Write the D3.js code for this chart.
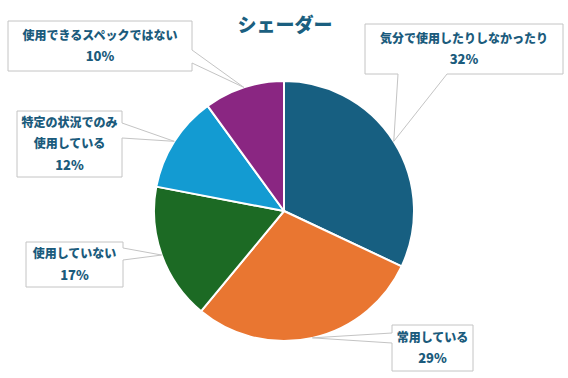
<!DOCTYPE html>
<html><head><meta charset="utf-8">
<script src="https://cdn.jsdelivr.net/npm/d3@7"></script>
<style>html,body{margin:0;padding:0;background:#fff;}svg{display:block;}</style>
</head><body>
<svg id="c" width="568" height="378"></svg>
<script>
const categories = ["気分で使用したりしなかったり", "常用している", "使用していない", "特定の状況でのみ使用している", "使用できるスペックではない"];
const labelLines = [["気分で使用したりしなかったり"], ["常用している"], ["使用していない"], ["特定の状況でのみ", "使用している"], ["使用できるスペックではない"]];
const values = [32, 29, 17, 12, 10];
const colors = ["#175f81", "#e97631", "#1c6a24", "#139bd2", "#8a2682"];
const title = "シェーダー";

// callout box layout (positions only)
const boxes = [
  {x: 365, y: 24, w: 198, h: 50, side: "bottom", a1: 33, a2: 82},
  {x: 392, y: 325, w: 81, h: 46, side: "left", a1: 8, a2: 18},
  {x: 26, y: 242, w: 97, h: 45, side: "right", a1: 6, a2: 18},
  {x: 17, y: 111, w: 105, h: 66, side: "right", a1: 12, a2: 27},
  {x: 8, y: 21, w: 184, h: 50, side: "right", a1: 29, a2: 42}
];

const svg = d3.select("#c");
const cx = 284, cy = 211, r = 130;
const textColor = "#1b5b7c";
const font = "'Noto Sans CJK JP', 'Noto Sans', sans-serif";

svg.append("text").attr("x", 285).attr("y", 32).attr("text-anchor", "middle")
  .attr("font-family", font).attr("font-weight", 900).attr("font-size", 19)
  .attr("fill", "#1b5f80").text(title);

const pie = d3.pie().sort(null).value(d => d)(values);
const arc = d3.arc().innerRadius(0).outerRadius(r);
const edge = d3.arc().innerRadius(r).outerRadius(r);

const g = svg.append("g").attr("transform", `translate(${cx},${cy})`);

// callouts
pie.forEach((p, i) => {
  const b = boxes[i];
  const [tx0, ty0] = edge.centroid(p);
  const tx = tx0 + cx, ty = ty0 + cy;
  let pts;
  const {x, y, w, h} = b;
  if (b.side === "right") {
    pts = [[x, y], [x + w, y], [x + w, y + b.a1], [tx, ty], [x + w, y + b.a2], [x + w, y + h], [x, y + h]];
  } else if (b.side === "left") {
    pts = [[x, y], [x + w, y], [x + w, y + h], [x, y + h], [x, y + b.a2], [tx, ty], [x, y + b.a1]];
  } else {
    pts = [[x, y], [x + w, y], [x + w, y + h], [x + b.a2, y + h], [tx, ty], [x + b.a1, y + h], [x, y + h]];
  }
  svg.append("path").attr("d", d3.line()(pts) + "Z")
    .attr("fill", "#fff").attr("stroke", "#c4c4c4").attr("stroke-width", 1);
  const lines = labelLines[i].concat([values[i] + "%"]);
  const lh = 21;
  const startY = y + h / 2 - (lines.length - 1) * lh / 2;
  lines.forEach((t, k) => {
    svg.append("text").attr("x", x + w / 2).attr("y", startY + k * lh)
      .attr("dy", "0.36em").attr("text-anchor", "middle")
      .attr("font-family", font).attr("font-weight", 900)
      .attr("font-size", t.endsWith("%") ? 13 : 12)
      .attr("fill", textColor).text(t);
  });
});

g.selectAll("path.slice").data(pie).enter().append("path")
  .attr("class", "slice").attr("d", arc)
  .attr("fill", (d, i) => colors[i])
  .attr("stroke", "#fff").attr("stroke-width", 2).attr("stroke-linejoin", "round");
</script>
</body></html>
